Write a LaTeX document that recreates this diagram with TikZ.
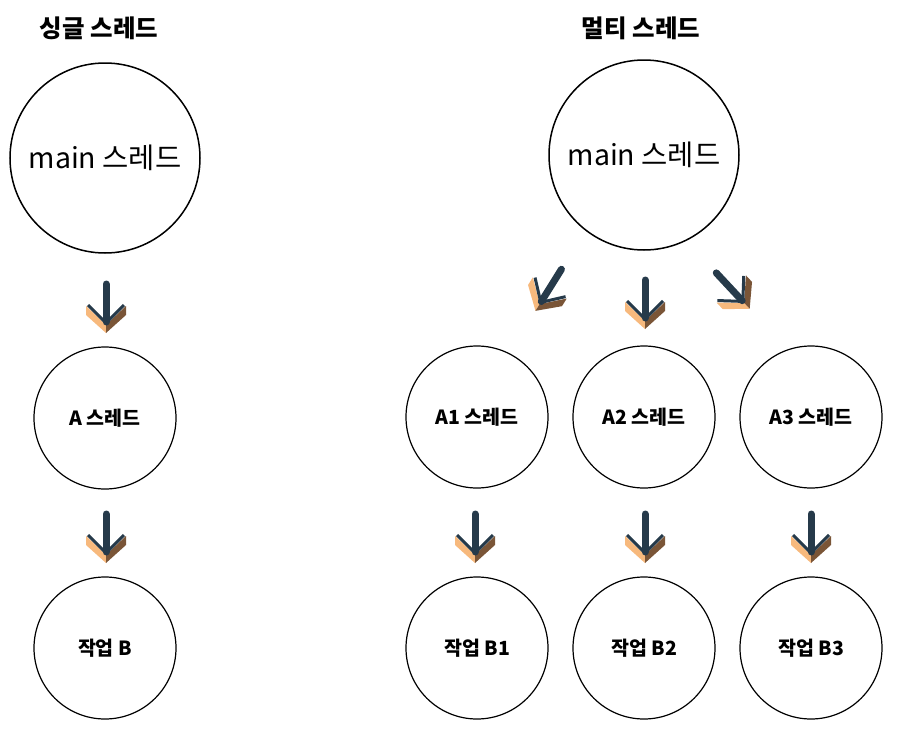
\documentclass[tikz,border=0pt]{standalone}
\usepackage{fontspec}
\setmainfont{Noto Sans CJK KR}
\usetikzlibrary{positioning}
\definecolor{arrowDark}{RGB}{38,58,74}
\definecolor{arrowLight}{RGB}{247,185,125}
\definecolor{arrowBrown}{RGB}{122,85,55}
\tikzset{
  bigthread/.style={circle, draw=black, line width=1.5pt, minimum size=190pt, inner sep=0pt, font=\fontsize{28.5}{32}\selectfont},
  smallthread/.style={circle, draw=black, line width=1.2pt, minimum size=142pt, inner sep=0pt, font=\bfseries\fontsize{19.5}{22}\selectfont},
  titlelabel/.style={font=\bfseries\fontsize{24.5}{28}\selectfont},
  arrowicon/.pic={
    \fill[arrowLight] (-20,26) -- (0,7) -- (0,-1) -- (-20,17) -- cycle;
    \fill[arrowBrown] (20,26) -- (0,7) -- (0,-1) -- (20,17) -- cycle;
    \draw[arrowDark, line width=3pt, line join=round] (-18,27) -- (0,9) -- (18,27);
    \draw[arrowDark, line width=7pt, line cap=round] (0,10) -- (0,48);
  }
}

\begin{document}
\begin{tikzpicture}[x=1pt, y=1pt]
\useasboundingbox (0,0) rectangle (898,-734);
% single thread
\node[titlelabel] (single) at (99,-28) {싱글 스레드};
\node[bigthread] (main1) at (105,-158) {main 스레드};
\node[smallthread] (a) at (105,-418) {A 스레드};
\node[smallthread] (b) at (105,-648) {작업 B};
\pic at (106,-332) {arrowicon};
\pic at (106,-562) {arrowicon};
% multi thread
\node[titlelabel] (multi) at (641,-28) {멀티 스레드};
\node[bigthread] (main2) at (644,-155) {main 스레드};
\node[smallthread] (a1) at (477,-417) {A1 스레드};
\node[smallthread] (a2) at (644,-417) {A2 스레드};
\node[smallthread] (a3) at (811,-417) {A3 스레드};
\node[smallthread] (b1) at (477,-648) {작업 B1};
\node[smallthread] (b2) at (644,-648) {작업 B2};
\node[smallthread] (b3) at (811,-648) {작업 B3};
\pic[rotate=-32] at (536,-310) {arrowicon};
\pic at (645,-328) {arrowicon};
\pic[rotate=43] at (749,-308) {arrowicon};
\foreach \x in {475,645,811}
  \pic at (\x,-562) {arrowicon};
\end{tikzpicture}
\end{document}
